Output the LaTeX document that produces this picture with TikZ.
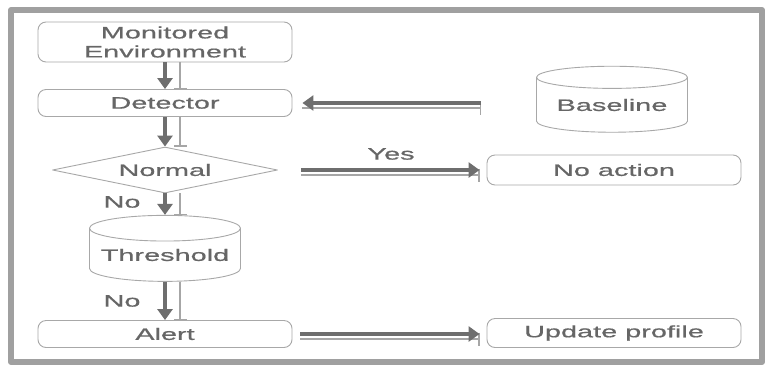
\documentclass[tikz,border=0pt]{standalone}
\usepackage{fontspec}
\newfontfamily\wfont{Liberation Sans}[FakeStretch=1.75,FakeBold=0.7]
\usetikzlibrary{arrows.meta,shapes.geometric}
\definecolor{txtgray}{HTML}{666666}
\definecolor{boxgray}{HTML}{A8A8A8}
\definecolor{arrgray}{HTML}{6E6E6E}
\definecolor{shdgray}{HTML}{A6A6A6}
\definecolor{framegray}{HTML}{A0A0A0}
\tikzset{
  lbl/.style={text=txtgray, font=\wfont\fontsize{16.5}{19}\selectfont},
  box/.style={lbl, draw=boxgray, line width=0.9pt, rounded corners=8pt, fill=white,
    minimum width=254pt, inner sep=0pt, align=center},
  db/.style={lbl, draw=boxgray, line width=0.9pt, cylinder, shape border rotate=90,
    aspect=0.2, fill=white, minimum width=151pt, minimum height=66pt, inner sep=0pt},
  test/.style={lbl, draw=boxgray, line width=0.9pt, diamond, fill=white, aspect=4.9,
    minimum width=225pt, minimum height=46pt, inner sep=0pt},
  arr/.style={draw=arrgray, line width=4.5pt, -{Triangle[length=11pt,width=15pt]}},
  shdend/.style={preaction={draw=shdgray, line width=1.2pt, -{Bar[width=13pt]},
    transform canvas={yshift=-5pt}}},
  shdstart/.style={preaction={draw=shdgray, line width=1.2pt, {Bar[width=13pt]}-,
    transform canvas={yshift=-5pt}}},
  shddown/.style={preaction={draw=shdgray, line width=1.2pt, -{Bar[width=13pt]},
    transform canvas={xshift=15pt}}}
}
\begin{document}
\begin{tikzpicture}[x=1pt,y=-1pt,line join=round]
\useasboundingbox (0,0) rectangle (771,365);
\draw [framegray, line width=6pt] (11,10) rectangle (762,362);
% left column
\node [box, minimum height=40pt] (mon) at (165,42) {Monitored\\Environment};
\node [box, minimum height=27pt] (det) at (165,103) {Detector};
\node [test] (nor) at (165,170) {Normal};
\node [db] (thr) at (165,255) {Threshold};
\node [box, minimum height=27pt] (alr) at (165,334) {Alert};
% right column
\node [db] (base) at (612,105) {Baseline};
\node [box, minimum height=30pt] (noact) at (614,170) {No action};
\node [box, minimum height=29pt] (upd) at (614,333) {Update profile};
% arrows
\draw [arr, shddown] (mon) -- (det);
\draw [arr, shddown] (det) -- (nor);
\draw [arr, shddown] (nor) -- (thr);
\draw [arr, shddown] (thr) -- (alr);
\draw [arr, shdstart] ([xshift=-55pt]base.west |- det.east) -- ([xshift=10pt]det.east);
\draw [arr, shdend] ([xshift=23pt]nor.east) -- ([xshift=-7pt]noact.west);
\draw [arr, shdend] ([xshift=8pt]alr.east) -- ([xshift=-7pt]upd.west |- alr.east);
% labels
\node [lbl] (yes) at (391,154) {Yes};
\node [lbl] (no1) at (122,202) {No};
\node [lbl] (no2) at (122,301) {No};
\end{tikzpicture}
\end{document}
